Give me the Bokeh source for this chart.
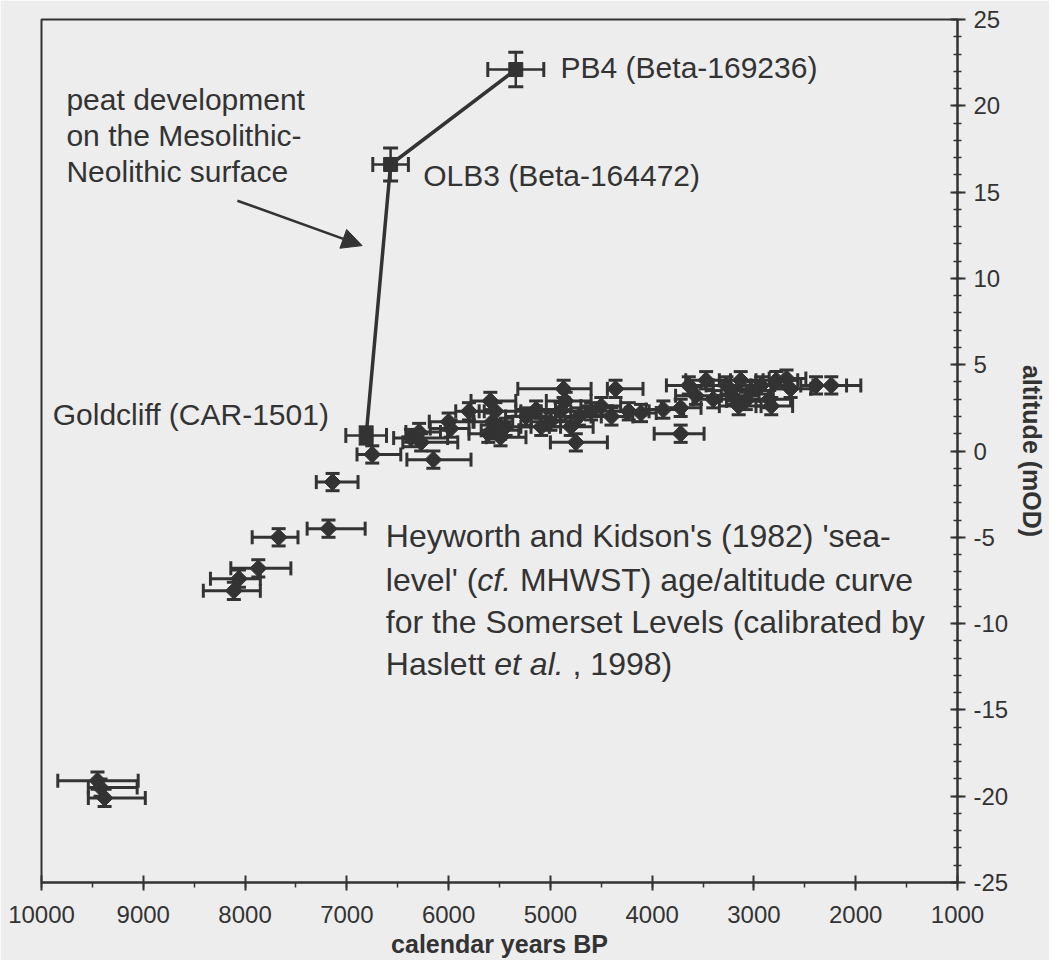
import math
from bokeh.plotting import figure
from bokeh.models import (Range1d, SingleIntervalTicker, ColumnDataSource, Whisker,
                          TeeHead, Arrow, NormalHead, Label)
from bokeh.embed import file_html
from bokeh.resources import INLINE

# ---------------- data ----------------
# Heyworth & Kidson (1982) sea-level index points (calibrated, Haslett et al. 1998)
hk_year = [9450, 9420, 9380, 8110, 8060, 7870, 7670, 7180, 7140, 6750,
           6370, 6270, 6290, 6150, 6000, 5980, 5800, 5590, 5540, 5570,
           5520, 5490, 5440, 5610, 5240, 5140, 5090, 5000, 4900, 4850,
           4800, 4720, 4870, 4750, 4600, 4500, 4400, 4360, 4230, 4110,
           3890, 3720, 3720, 3640, 3570, 3470, 3400, 3270, 3210, 3130,
           3080, 3150, 3030, 2930, 2850, 2830, 2780, 2680, 2640, 2390, 2240]
hk_alt = [-19.1, -19.5, -20.1, -8.1, -7.4, -6.8, -5.0, -4.5, -1.8, -0.2,
          0.75, 0.5, 1.1, -0.5, 1.7, 1.3, 2.3, 2.9, 2.3, 1.7,
          1.2, 0.8, 1.4, 1.0, 2.0, 2.4, 1.4, 1.7, 2.3, 2.9,
          1.4, 2.0, 3.6, 0.5, 2.3, 2.6, 2.0, 3.6, 2.3, 2.2,
          2.4, 2.5, 1.0, 3.8, 3.2, 4.1, 3.0, 3.8, 3.2, 4.1,
          2.9, 2.6, 3.5, 3.8, 3.0, 2.6, 4.1, 4.2, 3.6, 3.8, 3.8]
hk_old = [9840, 9540, 9540, 8410, 8340, 8140, 7930, 7390, 7300, 6900,
          6540, 6450, 6420, 6410, 6190, 6180, 5930, 5780, 5700, 5760,
          5680, 5630, 5600, 5800, 5440, 5340, 5290, 5190, 5090, 5040,
          5010, 4950, 5320, 5000, 4800, 4700, 4600, 4440, 4410, 4260,
          4060, 3910, 3980, 3860, 3770, 3670, 3600, 3470, 3400, 3340,
          3270, 3340, 3250, 3130, 3050, 2980, 2980, 2850, 2830, 2540, 2420]
hk_young = [9050, 9060, 8980, 7850, 7850, 7550, 7480, 6820, 6890, 6470,
            6010, 5910, 6080, 5780, 5750, 5800, 5650, 5340, 5290, 5370,
            5310, 5240, 5190, 5440, 5040, 4950, 4900, 4750, 4650, 4600,
            4580, 4500, 4600, 4440, 4390, 4310, 4190, 4090, 4030, 3960,
            3690, 3520, 3490, 3400, 3320, 3230, 3180, 3030, 2950, 2910,
            2850, 2930, 2810, 2680, 2640, 2620, 2570, 2490, 2440, 2090, 1950]
hk_alt_err = 0.5

# peat dates on the Mesolithic-Neolithic surface
peat_names = ["Goldcliff (CAR-1501)", "OLB3 (Beta-164472)", "PB4 (Beta-169236)"]
peat_year = [6810, 6570, 5340]
peat_alt = [0.9, 16.6, 22.1]
peat_year_err = [200, 175, 275]
peat_alt_err = [0.5, 0.95, 1.0]

x_ticks = list(range(1000, 10001, 1000))
y_ticks = list(range(-25, 26, 5))
x_tick_labels = {t: str(t) for t in x_ticks}
y_tick_labels = {t: str(t) for t in y_ticks}

# annotation arrow (tail -> head), data units
arrow_tail = (8075, 14.5)
arrow_head = (6850, 11.9)

# ---------------- style ----------------
DARK = "#333333"
BG = "#ededed"
FONT = "Liberation Sans"
ANN = 30   # px, sample / peat labels
HK = 32    # px, Heyworth note

p = figure(frame_width=916, frame_height=863,
           x_range=Range1d(10000, 1000), y_range=Range1d(-25, 25),
           y_axis_location="right", output_backend="svg", toolbar_location=None,
           min_border_left=41, min_border_top=19, min_border_right=0, min_border_bottom=0,
           background_fill_color=BG, border_fill_color=BG)
p.grid.visible = False
p.outline_line_color = DARK
p.outline_line_width = 2

p.xaxis.ticker = SingleIntervalTicker(interval=1000, num_minor_ticks=2)
p.yaxis.ticker = SingleIntervalTicker(interval=5, num_minor_ticks=5)
p.xaxis.major_label_overrides = x_tick_labels
p.yaxis.major_label_overrides = y_tick_labels
for ax in (p.xaxis[0], p.yaxis[0]):
    ax.axis_line_color = DARK
    ax.axis_line_width = 2
    ax.major_tick_line_color = DARK
    ax.major_tick_line_width = 2
    ax.minor_tick_line_color = DARK
    ax.minor_tick_line_width = 1.5
    ax.major_tick_in = 7
    ax.major_tick_out = 8
    ax.major_label_text_font = FONT
    ax.major_label_text_font_size = "24px"
    ax.major_label_text_color = DARK
    ax.axis_label_text_font = FONT
    ax.axis_label_text_font_style = "bold"
    ax.axis_label_text_color = DARK
p.xaxis.axis_label_text_font_size = "25px"
p.yaxis.axis_label_text_font_size = "25px"
p.xaxis.minor_tick_in = 0
p.xaxis.minor_tick_out = 5
p.yaxis.minor_tick_in = 4
p.yaxis.minor_tick_out = 4
p.xaxis.major_label_standoff = 15
p.yaxis.major_label_standoff = 8
p.xaxis.axis_label = "calendar years BP"
p.yaxis.axis_label = "altitude (mOD)"
p.xaxis.axis_label_standoff = 4
p.yaxis.axis_label_standoff = 7

# ---------------- Heyworth & Kidson points ----------------
hk = ColumnDataSource(dict(
    year=hk_year, alt=hk_alt, old=hk_old, young=hk_young,
    alo=[a - hk_alt_err for a in hk_alt], ahi=[a + hk_alt_err for a in hk_alt]))

def tee(sz):
    return TeeHead(size=sz, line_color=DARK, line_width=3)

p.add_layout(Whisker(source=hk, base="alt", lower="young", upper="old", dimension="width",
                     line_color=DARK, line_width=3, lower_head=tee(14), upper_head=tee(14),
                     level="glyph"))
p.add_layout(Whisker(source=hk, base="year", lower="alo", upper="ahi", dimension="height",
                     line_color=DARK, line_width=3, lower_head=tee(14), upper_head=tee(14),
                     level="glyph"))
p.scatter("year", "alt", source=hk, marker="square", angle=math.pi / 4, size=12,
          fill_color=DARK, line_color=DARK)

# ---------------- peat dates ----------------
pk = ColumnDataSource(dict(
    year=peat_year, alt=peat_alt,
    ylo=[y - e for y, e in zip(peat_year, peat_year_err)],
    yhi=[y + e for y, e in zip(peat_year, peat_year_err)],
    alo=[a - e for a, e in zip(peat_alt, peat_alt_err)],
    ahi=[a + e for a, e in zip(peat_alt, peat_alt_err)]))
p.line("year", "alt", source=pk, line_color=DARK, line_width=3.5)
p.add_layout(Whisker(source=pk, base="alt", lower="ylo", upper="yhi", dimension="width",
                     line_color=DARK, line_width=2.5, lower_head=tee(15), upper_head=tee(15),
                     level="glyph"))
p.add_layout(Whisker(source=pk, base="year", lower="alo", upper="ahi", dimension="height",
                     line_color=DARK, line_width=2.5, lower_head=tee(15), upper_head=tee(15),
                     level="glyph"))
p.scatter("year", "alt", source=pk, marker="square", size=14,
          fill_color=DARK, line_color=DARK)

# ---------------- annotations ----------------
p.add_layout(Arrow(x_start=arrow_tail[0], y_start=arrow_tail[1],
                   x_end=arrow_head[0], y_end=arrow_head[1],
                   line_color=DARK, line_width=2.5,
                   end=NormalHead(size=20, fill_color=DARK, line_color=DARK)))

def lab(x, y, text, size=ANN, style="normal", xoff=0):
    p.add_layout(Label(x=x, y=y, text=text, x_offset=xoff, text_font=FONT,
                       text_font_size=f"{size}px", text_font_style=style,
                       text_color=DARK, text_baseline="middle", text_align="left"))

# sample labels
lab(9890, 2.1, peat_names[0])
lab(6250, 15.95, peat_names[1])
lab(4900, 22.2, peat_names[2])

# peat development note
lab(9755, 20.35, "peat development")
lab(9755, 18.3, "on the Mesolithic-")
lab(9755, 16.2, "Neolithic surface")

# Heyworth and Kidson note (Arial-metric offsets for the mixed italic runs)
X0 = 6617
lab(X0, -4.95, "Heyworth and Kidson's (1982) 'sea-", size=HK)
lab(X0, -7.45, "level' (", size=HK)
lab(X0, -7.45, "cf.", size=HK, style="italic", xoff=2.858 * HK)
lab(X0, -7.45, "MHWST)  age/altitude curve", size=HK, xoff=(2.858 + 1.056 + 0.278) * HK)
lab(X0, -9.9, "for the Somerset Levels (calibrated by", size=HK)
lab(X0, -12.35, "Haslett", size=HK)
lab(X0, -12.35, "et al.", size=HK, style="italic", xoff=3.390 * HK)
lab(X0, -12.35, ", 1998)", size=HK, xoff=(3.390 + 2.168 + 0.278) * HK)

open("out.html", "w").write(file_html(p, INLINE))
